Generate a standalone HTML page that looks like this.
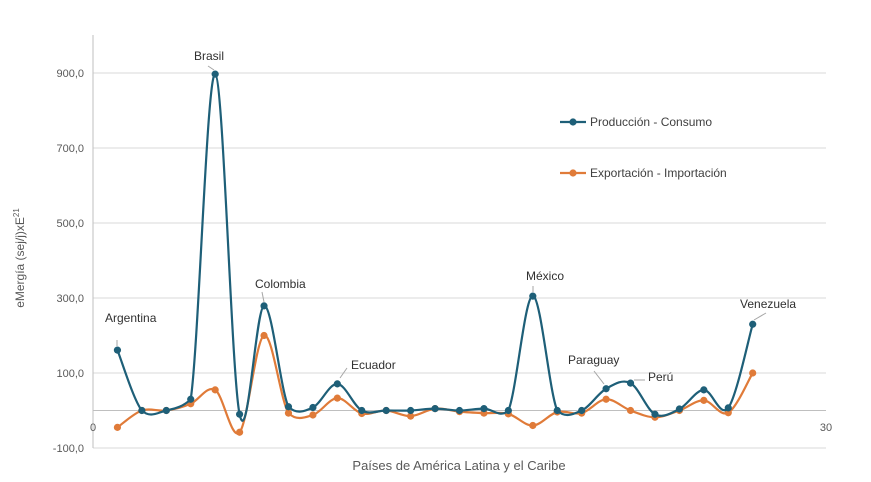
<!DOCTYPE html>
<html><head><meta charset="utf-8"><style>
body{margin:0;background:#fff;font-family:"Liberation Sans",sans-serif}
svg text{font-family:"Liberation Sans",sans-serif}
</style></head><body>
<svg width="871" height="477" id="c">
<g id="grid"></g><g id="series"></g><g id="labels"></g>
</svg>
<script>
const categories=[1,2,3,4,5,6,7,8,9,10,11,12,13,14,15,16,17,18,19,20,21,22,23,24,25,26,27];
const prodValues=[161,0,0,30,897,-10,279,10,8,71,0,0,0,5,0,5,0,305,0,0,58,73,-10,4,55,7,230];
const expValues=[-45,0,0,18,55,-58,200,-7,-12,33,-8,0,-15,5,-3,-7,-9,-40,-4,-7,30,0,-18,0,27,-6,100];
const yTicks=[900,700,500,300,100,-100];
const yTickLabels=["900,0","700,0","500,0","300,0","100,0","-100,0"];
const annotations=[["Argentina",1,105,318,117,340,117,346],["Brasil",5,194,56,208,66,214,70],["Colombia",7,255,284,262,292,264,302],["Ecuador",10,351,365,347,368,340,378],["México",18,526,276,533,286,533,292],["Paraguay",21,568,360,594,371,604,384],["Perú",22,648,377,645,380,634,380],["Venezuela",27,740,304,766,313,754,320]];
const NS="http://www.w3.org/2000/svg";
const X=v=>93+v*(733/30), Y=v=>410.5-v*0.375;
const svg=document.getElementById('c');
function el(t,a,p){const e=document.createElementNS(NS,t);for(const k in a)e.setAttribute(k,a[k]);(p||svg).appendChild(e);return e;}
const g=document.getElementById('grid');
yTicks.forEach((t,i)=>{
 const l=el('line',{x1:93,x2:826,y1:Y(t),y2:Y(t),stroke:'#d9d9d9','stroke-width':1},g);
 
 
 const tx=el('text',{x:84,y:Y(t)+4,'text-anchor':'end','font-size':11,fill:'#595959'},g);tx.textContent=yTickLabels[i];
 
 
});
const ax=el('line',{x1:93,x2:826,y1:Y(0),y2:Y(0),stroke:'#bfbfbf'},g);


const ay=el('line',{x1:93,x2:93,y1:35,y2:448,stroke:'#bfbfbf'},g);


[[0,93],[30,826]].forEach(([v,x])=>{const t=el('text',{x:x,y:431,'text-anchor':'middle','font-size':11,fill:'#595959'},g);t.textContent=v;
 
 });
function clamp(o,lim){return Math.max(-lim,Math.min(lim,o));}
function path(vals){
 const p=vals.map((v,i)=>[X(categories[i]),Y(v)]);
 let d='M'+p[0][0]+','+p[0][1];
 const k=6;
 for(let i=0;i<p.length-1;i++){
  const p0=p[Math.max(i-1,0)],p1=p[i],p2=p[i+1],p3=p[Math.min(i+2,p.length-1)];
  const lim=Math.max(Math.abs(p2[1]-p1[1])*0.6,8);
  const o1=clamp((p2[1]-p0[1])/k,lim), o2=clamp((p3[1]-p1[1])/k,lim);
  const c1=[p1[0]+(p2[0]-p0[0])/6,p1[1]+o1],c2=[p2[0]-(p3[0]-p1[0])/6,p2[1]-o2];
  d+=` C${c1[0]},${c1[1]} ${c2[0]},${c2[1]} ${p2[0]},${p2[1]}`;
 }return d;}
const s=document.getElementById('series');
[[expValues,'#e07b39','series-exportacion'],[prodValues,'#1e5f78','series-produccion']].forEach(([vals,c,n])=>{
 const pa=el('path',{d:path(vals),fill:'none',stroke:c,'stroke-width':2.2},s);
 
 
 vals.forEach((v,i)=>{const ci=el('circle',{cx:X(categories[i]),cy:Y(v),r:3.6,fill:c},s);
  
  });
});
const L=document.getElementById('labels');
annotations.forEach(a=>{
 const t=el('text',{x:a[2],y:a[3]+4,'font-size':12,fill:'#303030'},L);t.textContent=a[0];
 
 
 const ln=el('line',{x1:a[4],y1:a[5],x2:a[6],y2:a[7],stroke:'#a6a6a6','stroke-width':1},L);
 
 
});
[[122,'#1e5f78','Producción - Consumo'],[173,'#e07b39','Exportación - Importación']].forEach(([y,c,n])=>{
 el('line',{x1:560,x2:586,y1:y,y2:y,stroke:c,'stroke-width':2.2},L);
 el('circle',{cx:573,cy:y,r:3.6,fill:c},L);
 const t=el('text',{x:590,y:y+4,'font-size':12,fill:'#404040'},L);t.textContent=n;
 
 
});
const xt=el('text',{x:459,y:470,'text-anchor':'middle','font-size':13,fill:'#595959'},L);xt.textContent='Países de América Latina y el Caribe';


const yt=el('text',{x:0,y:0,'text-anchor':'middle','font-size':12,fill:'#595959',transform:'translate(24,258) rotate(-90)'},L);
yt.innerHTML='eMergía (sej/j)xE<tspan dy="-5" font-size="8">21</tspan>';


</script>
</body></html>
